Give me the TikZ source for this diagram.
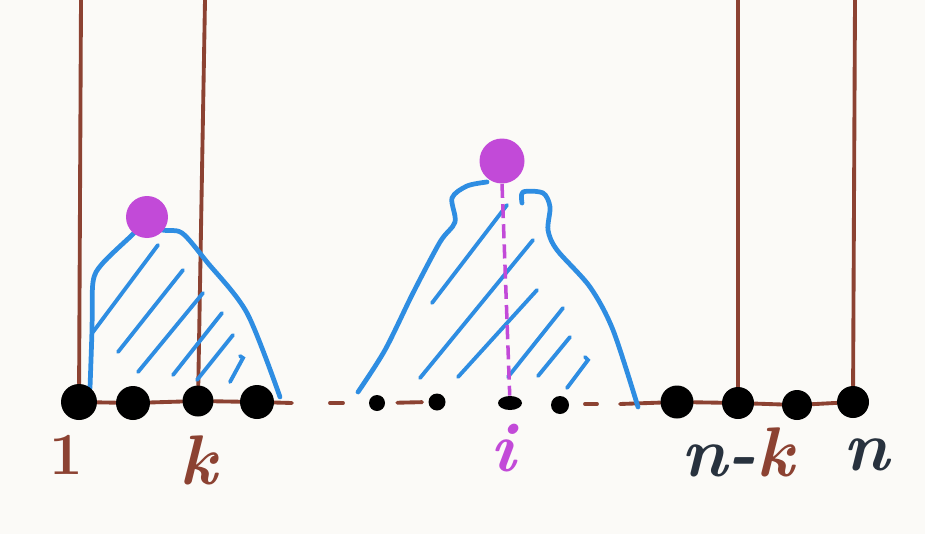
\documentclass[tikz,border=0pt]{standalone}
\usetikzlibrary{shapes.geometric}
\definecolor{brownline}{HTML}{8C4232}
\definecolor{bluemark}{HTML}{2E8DE2}
\definecolor{magentadot}{HTML}{C24AD8}
\definecolor{inkdark}{HTML}{28323E}
\definecolor{paper}{HTML}{FBFAF7}
\pgfdeclarelayer{back}
\pgfsetlayers{back,main}
\begin{document}
\begin{tikzpicture}[x=0.02cm,y=-0.02cm,
  dotnode/.style={circle,fill=black,inner sep=0pt,minimum size=#1},
  smalldot/.style={ellipse,fill=black,inner sep=0pt,minimum width=#1,minimum height=0.28cm},
  purpledot/.style={circle,fill=magentadot,inner sep=0pt,minimum size=#1},
  brownrule/.style={draw=brownline,line width=2.2pt,line cap=round},
  blueedge/.style={draw=bluemark,line width=2.7pt,line cap=round,line join=round},
  hatchline/.style={draw=bluemark,line width=2.2pt,line cap=round},
  pinkdash/.style={draw=magentadot,line width=2pt,dash pattern=on 8pt off 3.5pt},
  lbl/.style={inner sep=0pt,anchor=base,font=\fontsize{40}{40}\selectfont\bfseries\itshape}]
\begin{pgfonlayer}{back}
\fill[paper] (0,0) rectangle (925,534);
\end{pgfonlayer}
\useasboundingbox (0,0) rectangle (925,534);

% dots (named)
\node[dotnode=0.72cm] (d1) at (79,402) {};
\node[dotnode=0.68cm] (d2) at (133,403) {};
\node[dotnode=0.62cm] (d3) at (198,401) {};
\node[dotnode=0.68cm] (d4) at (257,402) {};
\node[dotnode=0.32cm] (m1) at (377,403) {};
\node[dotnode=0.34cm] (m2) at (437,402) {};
\node[smalldot=0.48cm] (m3) at (510,403) {};
\node[dotnode=0.36cm] (m4) at (560,405) {};
\node[dotnode=0.66cm] (r1) at (677,402) {};
\node[dotnode=0.64cm] (r2) at (738,403) {};
\node[dotnode=0.60cm] (r3) at (797,405) {};
\node[dotnode=0.64cm] (r4) at (853,402) {};

\coordinate (t1) at (81,0);
\coordinate (t2) at (205,0);
\coordinate (t3) at (738,0);
\coordinate (t4) at (855,0);

\begin{pgfonlayer}{back}
% brown verticals
\draw[brownrule] (t1) -- (d1);
\draw[brownrule] (t2) -- (d3);
\draw[brownrule] (t3) -- (r2);
\draw[brownrule] (t4) -- (r4);
% baseline
\draw[brownrule] (d1) -- (d2) -- (d3) -- (d4) -- (292,403);
\draw[brownrule] (330,403) -- (343,403);
\draw[brownrule,shorten <=0.24cm,shorten >=0.12cm] (m1.east) -- (m2.west);
\draw[brownrule] (585,404) -- (597,404);
\draw[brownrule] (620,404) -- (r1);
\draw[brownrule] (r1) -- (r2) -- (r3) -- (r4);

% left blue outline
\draw[blueedge] plot[smooth,tension=0.5] coordinates
  {(90,388) (92,330) (93,282) (102,264) (130,237) (147,222) (162,230) (182,233) (207,262) (247,313) (280,397)};
% left hatching
\draw[hatchline] (93,332) -- (158,245);
\draw[hatchline] (118,352) -- (183,270);
\draw[hatchline] (138,372) -- (203,293);
\draw[hatchline] (173,375) -- (222,313);
\draw[hatchline] (197,380) -- (233,335);
\draw[hatchline] (230,382) -- (243,358) -- (240,356);

% middle blue outline
\draw[blueedge] plot[smooth,tension=0.5] coordinates
  {(358,392) (385,350) (413,293) (440,242) (455,222) (452,198) (467,186) (487,182)};
\draw[blueedge] plot[smooth,tension=0.5] coordinates
  {(522,203) (523,192) (543,193) (550,207) (548,230) (557,250) (590,287) (613,330) (638,407)};
% middle hatching
\draw[hatchline] (432,303) -- (507,205);
\draw[hatchline] (420,378) -- (533,240);
\draw[hatchline] (458,377) -- (537,290);
\draw[hatchline] (508,377) -- (563,308);
\draw[hatchline] (538,376) -- (570,337);
\draw[hatchline] (567,388) -- (588,360) -- (585,357);
\end{pgfonlayer}

% magenta dots and dashed line
\node[purpledot=0.84cm] (p1) at (147,217) {};
\node[purpledot=0.90cm] (p2) at (502,161) {};
\begin{pgfonlayer}{back}
\draw[pinkdash] (p2.south) -- (m3);
\end{pgfonlayer}

% labels
\node[lbl,text=brownline,font=\fontsize{34}{34}\selectfont\bfseries] (l1) at (66,474) {1};
\node[lbl,text=brownline] (lk) at (198,484) {k};
\node[lbl,text=magentadot] (li) at (503,471) {i};
\node[lbl,text=inkdark] (lnk) at (738,476) {n-\textcolor{brownline}{k}};
\node[lbl,text=inkdark] (ln) at (866,470) {n};
\end{tikzpicture}
\end{document}
